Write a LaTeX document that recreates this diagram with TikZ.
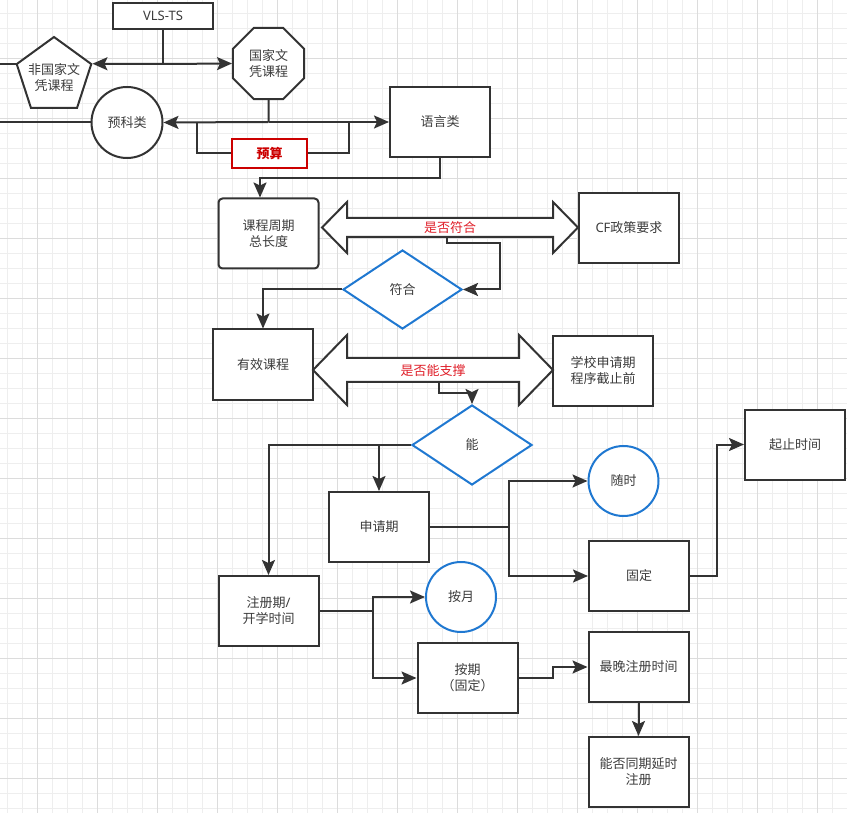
\documentclass[tikz,border=0pt]{standalone}
\usepackage{fontspec}
\setmainfont{Noto Sans CJK SC}
\newfontfamily\lat{Noto Sans}
\usetikzlibrary{arrows.meta,shapes.geometric,calc}
\definecolor{ln}{HTML}{333333}
\definecolor{tx}{HTML}{3C3C3C}
\definecolor{bl}{HTML}{1F78D1}
\definecolor{rd}{HTML}{E0202A}
\definecolor{drd}{HTML}{CC0000}
\definecolor{gmin}{HTML}{EEEEEE}
\definecolor{gmaj}{HTML}{DCDCDC}
\tikzset{tipstyle/.tip={Stealth[length=15pt,width=13pt,inset=3pt]}}
\begin{document}
\begin{tikzpicture}[x=1pt,y=-1pt,
  font=\fontsize{13}{16}\selectfont,
  every node/.style={text=tx, align=center, inner sep=0pt},
  box/.style={draw=ln, line width=2pt, fill=white, minimum width=100pt, minimum height=70pt},
  rbox/.style={box, rounded corners=4pt},
  dia/.style={diamond, draw=bl, line width=2pt, fill=white, minimum width=119pt, minimum height=79pt, aspect=1.5},
  bcirc/.style={circle, draw=bl, line width=2pt, fill=white, minimum size=70pt},
  con/.style={draw=ln, line width=2pt},
  arr/.style={con, -tipstyle},
  bigarrow/.style={draw=ln, line width=2pt, fill=white, line join=miter},
  lbl/.style={text=rd},
]
\useasboundingbox (0,0) rectangle (847,813);
\fill[white] (0,0) rectangle (847,813);
% grid
\foreach \i in {0,...,56} \draw[gmin, line width=1pt] (7.3+15*\i,0) -- (7.3+15*\i,813);
\foreach \i in {0,...,53} \draw[gmin, line width=1pt] (0,13.3+15*\i) -- (847,13.3+15*\i);
\foreach \i in {0,...,13} \draw[gmaj, line width=1pt] (37.3+60*\i,0) -- (37.3+60*\i,813);
\foreach \i in {0,...,12} \draw[gmaj, line width=1pt] (0,58.3+60*\i) -- (847,58.3+60*\i);

\coordinate (edgeL) at (0,0);

% top nodes
\node[box, minimum height=26pt] (vls) at (163,16) {\lat VLS-TS};
\node[regular polygon, regular polygon sides=5, draw=ln, line width=2pt, fill=white, minimum size=78.4pt] (fg) at (54,76.2) {};
\node at (54,78) {非国家文\\凭课程};
\node[regular polygon, regular polygon sides=8, draw=ln, line width=2pt, fill=white, minimum size=76.9pt] (gj) at (268.5,63.5) {国家文\\凭课程};
\node[circle, draw=ln, line width=2pt, fill=white, minimum size=71pt] (yk) at (127,122.5) {预科类};
\node[box] (yy) at (440,122) {语言类};
\node[draw=drd, line width=2pt, fill=white, minimum width=75pt, minimum height=29pt, text=drd, font=\fontsize{13}{16}\selectfont\bfseries] (ys) at (269.5,153.5) {预算};

\draw[con] (vls.south) -- (163,64) coordinate (v1);
\draw[arr] (v1) -- (fg.corner 5);
\draw[arr] (v1) -- (gj.west);
\draw[con] (fg.corner 2) -- (fg.corner 2 -| edgeL);
\draw[con] (yk.west) -- (yk.west -| edgeL);
\draw[con] (gj.south) -- (268.5,122) coordinate (g1);
\draw[arr] (g1) -- (yk.east);
\draw[arr] (g1) -- (yy.west);
\draw[con] (197,122) |- (ys.west);
\draw[con] (ys.east) -| (349,122);

% course length
\node[rbox] (kc) at (268.5,233.5) {课程周期\\总长度};
\node[box] (cf) at (629,228) {{\lat CF}政策要求};
\draw[arr] (yy.south) -- (440,178) -| ([xshift=-8.5]kc.north);
\draw[bigarrow] (322,227.5) -- (347,202) -- (347,218) -- (553,218) -- (553,202) -- (578,227.5) -- (553,253) -- (553,237) -- (347,237) -- (347,253) -- cycle;
\node[lbl] (q1) at (450,227.5) {是否符合};
\coordinate (q1b) at (447,237);
\node[dia] (fh) at (402.5,289.5) {符合};
\draw[arr] (q1b) -- (447,243) -- (500,243) |- (fh.east);

\node[box] (yx) at (263,364.5) {有效课程};
\draw[arr] (fh.west) -| (yx.north);
\node[box] (xx) at (603,371) {学校申请期\\程序截止前};
\draw[bigarrow] (313,370) -- (347,335) -- (347,358) -- (519,358) -- (519,335) -- (553,370) -- (519,405) -- (519,382) -- (347,382) -- (347,405) -- cycle;
\node[lbl] (q2) at (433,370.5) {是否能支撑};
\coordinate (q2b) at (439,382);
\node[dia, minimum width=120pt, minimum height=80pt] (neng) at (472,445) {能};
\draw[arr] (q2b) -- (439,393) -| (neng.north);

% lower part
\node[box] (sq) at (379,527) {申请期};
\node[box] (zc) at (268.5,611) {注册期{\lat /}\\开学时间};
\draw[arr] (neng.west) -| (zc.north);
\draw[arr] (sq.north |- neng.west) -- (sq.north);

\node[bcirc] (ss) at (623.5,481) {随时};
\node[box] (gd) at (639,576) {固定};
\node[box] (qz) at (795,444.5) {起止时间};
\draw[con] (sq.east) -- (509,527) coordinate (s1);
\draw[arr] (s1) |- (ss.west);
\draw[arr] (s1) |- (gd.west);
\draw[arr] (gd.east) -- (717,576) |- (qz.west);

\node[bcirc] (ay) at (461,597) {按月};
\node[box] (aq) at (467.5,678) {按期\\（固定）};
\node[box] (zw) at (638.5,667) {最晚注册时间};
\node[box] (nf) at (638.5,772) {能否同期延时\\注册};
\draw[con] (zc.east) -- (373,611) coordinate (z1);
\draw[arr] (z1) |- (ay.west);
\draw[arr] (z1) |- (aq.west);
\draw[arr] (aq.east) -- (553,678) |- (zw.west);
\draw[arr] (zw.south) -- (nf.north);
\end{tikzpicture}
\end{document}
